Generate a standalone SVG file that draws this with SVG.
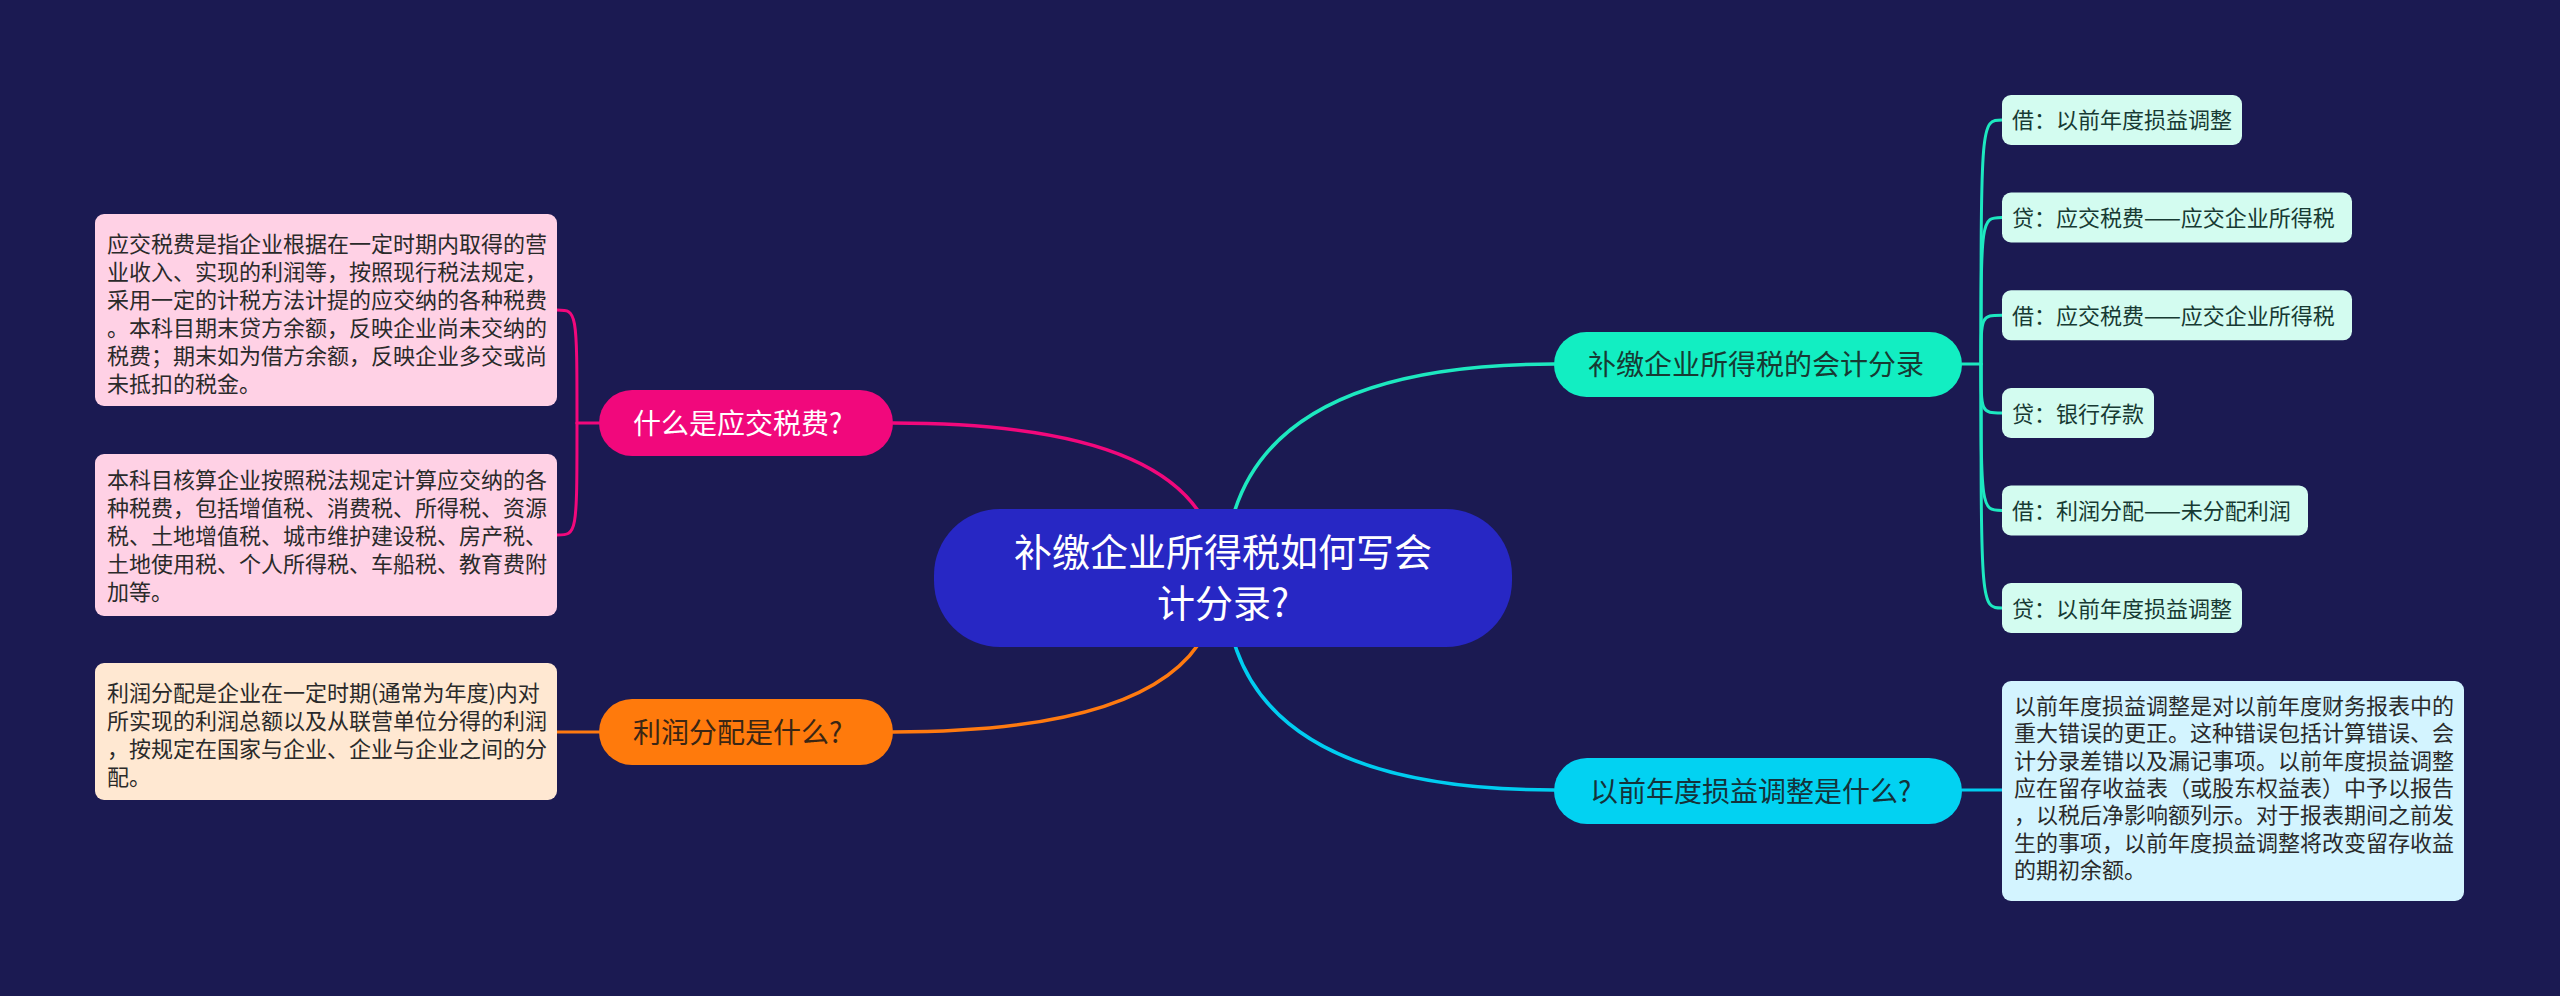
<svg xmlns="http://www.w3.org/2000/svg" width="2560" height="996" viewBox="0 0 2560 996">
<style>
text{font-family:"Noto Sans CJK SC","Noto Sans",sans-serif;}
.d{font-size:22px;fill:#2a2a2a;}
.lf{font-size:22px;fill:#173a33;}
.br{font-size:28px;}
.c{fill:none;stroke-width:3.5;stroke-linecap:round;}
.k{fill:none;stroke-width:3;stroke-linecap:round;}
</style>
<rect width="2560" height="996" fill="#1b1a52"/>
<g id="connectors">
<path class="c" stroke="#f1087c" d="M1218,578 Q1218,423 893,423"/>
<path class="c" stroke="#ff7a10" d="M1218,578 Q1218,732 893,732"/>
<path class="c" stroke="#1de8c0" d="M1225,578 Q1225,364 1554,364"/>
<path class="c" stroke="#00cdf0" d="M1225,578 Q1225,790 1554,790"/>
<g stroke="#f1087c">
<path class="k" d="M599,423 H577"/>
<path class="k" d="M577,423 C577,310 577,310 557,310"/>
<path class="k" d="M577,423 C577,535 577,535 557,535"/>
</g>
<path class="k" stroke="#ff7a10" d="M599,732 H557"/>
<g stroke="#1de8c0">
<path class="k" d="M1962,364 H1981"/>
<path class="k" d="M1981,364 C1981,120 1981,120 2002,120"/>
<path class="k" d="M1981,364 C1981,217.5 1981,217.5 2002,217.5"/>
<path class="k" d="M1981,364 C1981,315.3 1981,315.3 2002,315.3"/>
<path class="k" d="M1981,364 C1981,413 1981,413 2002,413"/>
<path class="k" d="M1981,364 C1981,510.4 1981,510.4 2002,510.4"/>
<path class="k" d="M1981,364 C1981,608 1981,608 2002,608"/>
</g>
<path class="k" stroke="#00cdf0" d="M1962,790 H2002"/>
</g>
<g id="center">
<rect x="934" y="509" width="578" height="138" rx="66" fill="#2727c4"/>
<text x="1223" y="566" font-size="38" fill="#ffffff" text-anchor="middle">补缴企业所得税如何写会</text>
<text x="1223" y="617" font-size="38" fill="#ffffff" text-anchor="middle">计分录?</text>
</g>
<g id="n-yingjiao">
<rect x="599" y="390" width="294" height="66" rx="33" fill="#f1087c"/>
<text class="br" x="633" y="433.5" fill="#ffffff">什么是应交税费?</text>
</g>
<g id="n-yingjiao-d1">
<rect x="95" y="214" width="462" height="192" rx="9" fill="#ffd1e5"/>
<text class="d" x="107" y="252">应交税费是指企业根据在一定时期内取得的营</text>
<text class="d" x="107" y="280">业收入、实现的利润等，按照现行税法规定，</text>
<text class="d" x="107" y="308">采用一定的计税方法计提的应交纳的各种税费</text>
<text class="d" x="107" y="336">。本科目期末贷方余额，反映企业尚未交纳的</text>
<text class="d" x="107" y="364">税费；期末如为借方余额，反映企业多交或尚</text>
<text class="d" x="107" y="392">未抵扣的税金。</text>
</g>
<g id="n-yingjiao-d2">
<rect x="95" y="454" width="462" height="162" rx="9" fill="#ffd1e5"/>
<text class="d" x="107" y="488">本科目核算企业按照税法规定计算应交纳的各</text>
<text class="d" x="107" y="516">种税费，包括增值税、消费税、所得税、资源</text>
<text class="d" x="107" y="544">税、土地增值税、城市维护建设税、房产税、</text>
<text class="d" x="107" y="572">土地使用税、个人所得税、车船税、教育费附</text>
<text class="d" x="107" y="600">加等。</text>
</g>
<g id="n-lirun">
<rect x="599" y="699" width="294" height="66" rx="33" fill="#ff7a0c"/>
<text class="br" x="633" y="742.5" fill="#3a2614">利润分配是什么?</text>
</g>
<g id="n-lirun-d">
<rect x="95" y="663" width="462" height="137" rx="9" fill="#ffe8d2"/>
<text class="d" x="107" y="701">利润分配是企业在一定时期(通常为年度)内对</text>
<text class="d" x="107" y="729">所实现的利润总额以及从联营单位分得的利润</text>
<text class="d" x="107" y="757">，按规定在国家与企业、企业与企业之间的分</text>
<text class="d" x="107" y="785">配。</text>
</g>
<g id="n-fenlu">
<rect x="1554" y="332" width="408" height="65" rx="32.5" fill="#12eec2"/>
<text class="br" x="1588" y="375" fill="#173a33">补缴企业所得税的会计分录</text>
</g>
<g id="leaf1">
<rect x="2002" y="95" width="240" height="50" rx="9" fill="#d3fcf0"/>
<text class="lf" x="2012" y="128">借：以前年度损益调整</text>
</g>
<g id="leaf2">
<rect x="2002" y="192.5" width="350" height="50" rx="9" fill="#d3fcf0"/>
<text class="lf" x="2012" y="226">贷：应交税费——应交企业所得税</text>
</g>
<g id="leaf3">
<rect x="2002" y="290.3" width="350" height="50" rx="9" fill="#d3fcf0"/>
<text class="lf" x="2012" y="323.8">借：应交税费——应交企业所得税</text>
</g>
<g id="leaf4">
<rect x="2002" y="388" width="152" height="50" rx="9" fill="#d3fcf0"/>
<text class="lf" x="2012" y="421.5">贷：银行存款</text>
</g>
<g id="leaf5">
<rect x="2002" y="485.4" width="306" height="50" rx="9" fill="#d3fcf0"/>
<text class="lf" x="2012" y="518.9">借：利润分配——未分配利润</text>
</g>
<g id="leaf6">
<rect x="2002" y="583" width="240" height="50" rx="9" fill="#d3fcf0"/>
<text class="lf" x="2012" y="616.5">贷：以前年度损益调整</text>
</g>
<g id="n-sunyi">
<rect x="1554" y="758" width="408" height="66" rx="33" fill="#02d2f2"/>
<text class="br" x="1590" y="801.5" fill="#15323a">以前年度损益调整是什么?</text>
</g>
<g id="n-sunyi-d">
<rect x="2002" y="681" width="462" height="220" rx="9" fill="#d3f4ff"/>
<text class="d" x="2014" y="714">以前年度损益调整是对以前年度财务报表中的</text>
<text class="d" x="2014" y="741.3">重大错误的更正。这种错误包括计算错误、会</text>
<text class="d" x="2014" y="768.6">计分录差错以及漏记事项。以前年度损益调整</text>
<text class="d" x="2014" y="795.9">应在留存收益表（或股东权益表）中予以报告</text>
<text class="d" x="2014" y="823.2">，以税后净影响额列示。对于报表期间之前发</text>
<text class="d" x="2014" y="850.5">生的事项，以前年度损益调整将改变留存收益</text>
<text class="d" x="2014" y="877.8">的期初余额。</text>
</g>
</svg>
